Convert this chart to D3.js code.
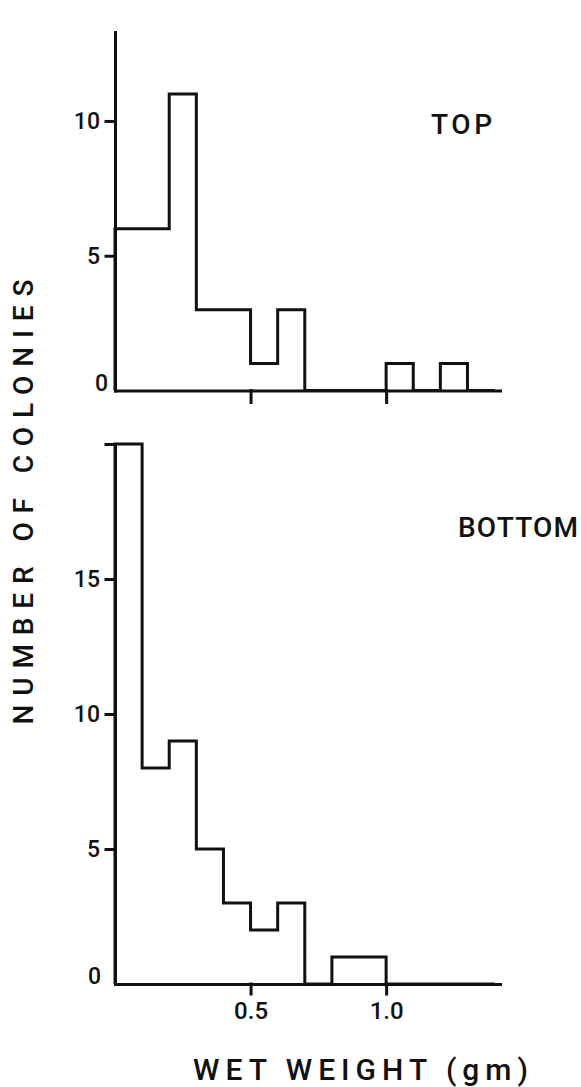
<!DOCTYPE html>
<html>
<head>
<meta charset="utf-8">
<script src="https://cdn.jsdelivr.net/npm/d3@7"></script>
<style>
  body { margin: 0; background: #fff; }
  text { font-family: Roboto, "Liberation Sans", Arial, sans-serif; fill: #111; font-weight: 500; }
</style>
</head>
<body>
<div id="chart"></div>
<script>
// bins of wet weight (gm), each 0.1 wide
const binStarts = [0.0, 0.1, 0.2, 0.3, 0.4, 0.5, 0.6, 0.7, 0.8, 0.9, 1.0, 1.1, 1.2, 1.3];
const binWidth = 0.1;
const topCounts = [6, 6, 11, 3, 3, 1, 3, 0, 0, 0, 1, 0, 1, 0];
const bottomCounts = [20, 8, 9, 5, 3, 2, 3, 0, 1, 1, 0, 0, 0, 0];
const xTicks = [0.5, 1.0];
const xTickLabels = ["0.5", "1.0"];
const topYTicks = [5, 10];
const bottomYTicks = [5, 10, 15, 20];
const yTitle = "NUMBER OF COLONIES";
const xTitle = "WET WEIGHT (gm)";

let width = 581, height = 1087;

let svg = d3.select("#chart")
  .append("svg")
    .attr("width", width)
    .attr("height", height);

// shared x scale
let x = d3.scaleLinear()
  .domain([0, 1.42])
  .range([115, 500]);

let panels = [
  { name: "TOP", counts: topCounts, yMax: 13.3, range: [390.5, 32], ticks: topYTicks,
    xTickSize: 12, showXLabels: false, zeroX: 108, label: { x: 431, y: 134, len: 61 } },
  { name: "BOTTOM", counts: bottomCounts, yMax: 20, range: [984, 444], ticks: bottomYTicks,
    xTickSize: 10, showXLabels: true, zeroX: 101, label: { x: 458, y: 537, len: 120 } }
];

panels.forEach(function(p) {
  let y = d3.scaleLinear()
    .domain([0, p.yMax])
    .range(p.range);

  let g = svg.append("g");

  // Y axis
  let yAxis = d3.axisLeft(y)
    .tickValues(p.ticks)
    .tickSize(9)
    .tickSizeOuter(0)
    .tickPadding(6)
    .tickFormat(function(d) { return d === 20 ? "" : d; });

  g.append("g")
    .attr("transform", "translate(" + x(0) + ",0)")
    .call(yAxis)
    .call(function(a) {
      a.selectAll("path, line").attr("stroke", "#111").attr("stroke-width", 3).attr("stroke-linecap", "square");
      a.selectAll("text").style("font-size", "23px").attr("fill", "#111");
    });

  // X axis
  let xAxis = d3.axisBottom(x)
    .tickValues(xTicks)
    .tickSize(p.xTickSize)
    .tickSizeOuter(0)
    .tickPadding(8)
    .tickFormat(function(d, i) { return p.showXLabels ? xTickLabels[i] : ""; });

  g.append("g")
    .attr("transform", "translate(0," + y(0) + ")")
    .call(xAxis)
    .call(function(a) {
      a.selectAll("path, line").attr("stroke", "#111").attr("stroke-width", 3).attr("stroke-linecap", "square");
      a.selectAll("text").style("font-size", "24px").attr("fill", "#111");
    });

  // the zero label sits on the baseline
  g.append("text")
    .attr("x", p.zeroX)
    .attr("y", y(0))
    .attr("text-anchor", "end")
    .style("font-size", "23px")
    .text("0");

  // histogram outline as a step line
  let pts = [[0, 0]];
  binStarts.forEach(function(b, i) { pts.push([b, p.counts[i]]); });
  pts.push([binStarts[binStarts.length - 1] + binWidth, 0]);

  let line = d3.line()
    .x(function(d) { return x(d[0]); })
    .y(function(d) { return y(d[1]); })
    .curve(d3.curveStepAfter);

  g.append("path")
    .datum(pts)
    .attr("d", line)
    .attr("fill", "none")
    .attr("stroke", "#111")
    .attr("stroke-width", 3)
    .attr("stroke-linejoin", "miter");

  g.append("text")
    .attr("x", p.label.x)
    .attr("y", p.label.y)
    .attr("textLength", p.label.len)
    .attr("lengthAdjust", "spacing")
    .style("font-size", "28px")
    .text(p.name);
});

// axis titles
svg.append("text")
  .attr("transform", "translate(33,502) rotate(-90)")
  .attr("text-anchor", "middle")
  .attr("textLength", 445)
  .attr("lengthAdjust", "spacing")
  .style("font-size", "28px")
  .text(yTitle);

svg.append("text")
  .attr("x", 193)
  .attr("y", 1080)
  .attr("textLength", 335)
  .attr("lengthAdjust", "spacing")
  .style("font-size", "30px")
  .text(xTitle);
</script>
</body>
</html>
